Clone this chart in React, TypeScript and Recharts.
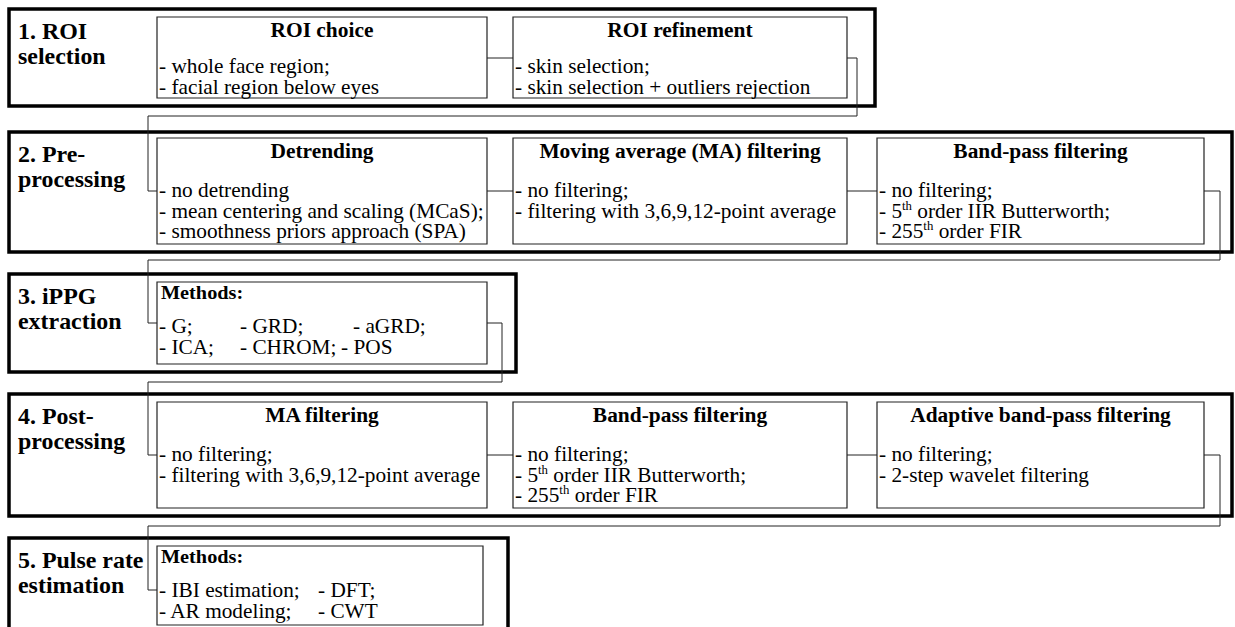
import { ComposedChart, ReferenceArea, ReferenceLine, XAxis, YAxis } from 'recharts';

// text content
const stageNames = [
  ['1. ROI', 'selection'],
  ['2. Pre-', 'processing'],
  ['3. iPPG', 'extraction'],
  ['4. Post-', 'processing'],
  ['5. Pulse rate', 'estimation'],
];

const roiTitles = ['ROI choice', 'ROI refinement'];
const roiItems = [
  ['- whole face region;', '- facial region below eyes'],
  ['- skin selection;', '- skin selection + outliers rejection'],
];

const preTitles = ['Detrending', 'Moving average (MA) filtering', 'Band-pass filtering'];
const preItems = [
  ['- no detrending', '- mean centering and scaling (MCaS);', '- smoothness priors approach (SPA)'],
  ['- no filtering;', '- filtering with 3,6,9,12-point average'],
  ['- no filtering;', '- 5{th} order IIR Butterworth;', '- 255{th} order FIR'],
];

const extractionRows = [
  ['- G;', '- GRD;', '- aGRD;'],
  ['- ICA;', '- CHROM;', '- POS'],
];

const postTitles = ['MA filtering', 'Band-pass filtering', 'Adaptive band-pass filtering'];
const postItems = [
  ['- no filtering;', '- filtering with 3,6,9,12-point average'],
  ['- no filtering;', '- 5{th} order IIR Butterworth;', '- 255{th} order FIR'],
  ['- no filtering;', '- 2-step wavelet filtering'],
];

const estimationRows = [
  ['- IBI estimation;', '- DFT;'],
  ['- AR modeling;', '- CWT'],
];

const methodsTitle = 'Methods:';

// geometry (diagram units = px)
const W = 1235;
const H = 627;
const FONT = '"Liberation Serif", "Times New Roman", serif';

const frames = [
  [9, 875, 9, 106],
  [9, 1232, 132, 252],
  [9, 516, 274, 372],
  [9, 1232, 394, 516],
  [9, 508, 538, 660],
];

const colX = [157, 513, 877];
const colX2 = [487, 847, 1204];
const rowBoxes = [
  [17, 98],
  [138, 244],
  [282, 364],
  [402, 508],
  [546, 625],
];
const bodyOffsets = [56, 59, 0, 59, 0];
const extractionCols = [[0, 81, 194], [0, 81, 182]];
const estimationCols = [[0, 159], [0, 159]];

const connectors = [
  [[487, 58], [513, 58]],
  [[847, 58], [857, 58], [857, 116], [148, 116], [148, 191], [157, 191]],
  [[487, 191], [513, 191]],
  [[847, 191], [877, 191]],
  [[1204, 191], [1220, 191], [1220, 260], [148, 260], [148, 323], [157, 323]],
  [[487, 323], [502, 323], [502, 382], [148, 382], [148, 455], [157, 455]],
  [[487, 455], [513, 455]],
  [[847, 455], [877, 455]],
  [[1204, 455], [1220, 455], [1220, 526], [148, 526], [148, 590], [157, 590]],
];

function SerifText({ x, y, text, size, bold = false, anchor = 'start', sx = 1.06 }: any) {
  const parts = text.split(/(\{[^}]*\})/).filter((p: string) => p.length > 0);
  let raised = false;
  return (
    <text
      transform={`translate(${x} ${y}) scale(${sx} 1)`}
      fontFamily={FONT}
      fontSize={size}
      fontWeight={bold ? 'bold' : 'normal'}
      textAnchor={anchor}
      fill="#000"
      style={{ whiteSpace: 'pre' }}
    >
      {parts.map((p: string, i: number) => {
        if (p.startsWith('{')) {
          raised = true;
          return (
            <tspan key={i} dy={-size * 0.38} fontSize={size * 0.6}>
              {p.slice(1, -1)}
            </tspan>
          );
        }
        const dy = raised ? size * 0.38 : 0;
        raised = false;
        return (
          <tspan key={i} dy={dy}>
            {p}
          </tspan>
        );
      })}
    </text>
  );
}

const stageLabel = (lines: string[]) => (props: any) => {
  const { x, y } = props.viewBox;
  return (
    <g>
      {lines.map((t, i) => (
        <SerifText key={i} x={x + 9} y={y + 30 + i * 25} text={t} size={23} bold sx={1.04} />
      ))}
    </g>
  );
};

const listBox = (title: string, items: string[], bodyOffset: number) => (props: any) => {
  const { x, y, width } = props.viewBox;
  return (
    <g>
      <SerifText x={x + width / 2} y={y + 20} text={title} size={20.5} bold anchor="middle" sx={1.045} />
      {items.map((t, i) => (
        <SerifText key={i} x={x + 2} y={y + bodyOffset + i * 20.5} text={t} size={20} sx={1.065} />
      ))}
    </g>
  );
};

const methodsBox = (rows: string[][], cols: number[][]) => (props: any) => {
  const { x, y } = props.viewBox;
  return (
    <g>
      <SerifText x={x + 4} y={y + 17} text={methodsTitle} size={19.5} bold sx={1.04} />
      {rows.map((row, r) =>
        row.map((t, c) => (
          <SerifText
            key={`${r}-${c}`}
            x={x + 2 + cols[r][c]}
            y={y + 51 + r * 21}
            text={t}
            size={20}
            sx={1.065}
          />
        )),
      )}
    </g>
  );
};

export default function App() {
  const boxes: any[] = [];
  roiTitles.forEach((t, i) =>
    boxes.push({ x1: colX[i], x2: colX2[i], row: 0, label: listBox(t, roiItems[i], bodyOffsets[0]) }),
  );
  preTitles.forEach((t, i) =>
    boxes.push({ x1: colX[i], x2: colX2[i], row: 1, label: listBox(t, preItems[i], bodyOffsets[1]) }),
  );
  boxes.push({ x1: 157, x2: 487, row: 2, label: methodsBox(extractionRows, extractionCols) });
  postTitles.forEach((t, i) =>
    boxes.push({ x1: colX[i], x2: colX2[i], row: 3, label: listBox(t, postItems[i], bodyOffsets[3]) }),
  );
  boxes.push({ x1: 157, x2: 483, row: 4, label: methodsBox(estimationRows, estimationCols) });

  return (
    <div style={{ position: 'absolute', left: 0, top: 0, width: W, height: H, background: '#fff' }}>
      <ComposedChart width={W} height={H} data={[]} margin={{ top: 0, right: 0, bottom: 0, left: 0 }}>
        <XAxis type="number" dataKey="x" domain={[0, W]} hide allowDataOverflow />
        <YAxis type="number" dataKey="y" domain={[0, H]} reversed hide allowDataOverflow />
        {connectors.map((pts, ci) =>
          pts.slice(1).map((p, k) => (
            <ReferenceLine
              key={`c${ci}-${k}`}
              segment={[
                { x: pts[k][0], y: pts[k][1] },
                { x: p[0], y: p[1] },
              ]}
              stroke="#222"
              strokeWidth={1}
              ifOverflow="visible"
            />
          )),
        )}
        {frames.map((f, i) => (
          <ReferenceArea
            key={`f${i}`}
            x1={f[0]}
            x2={f[1]}
            y1={f[2]}
            y2={f[3]}
            fill="none"
            stroke="#000"
            strokeWidth={3.5}
            ifOverflow="visible"
            label={stageLabel(stageNames[i])}
          />
        ))}
        {boxes.map((b, i) => (
          <ReferenceArea
            key={`b${i}`}
            x1={b.x1}
            x2={b.x2}
            y1={rowBoxes[b.row][0]}
            y2={rowBoxes[b.row][1]}
            fill="#fff"
            fillOpacity={1}
            stroke="#222"
            strokeWidth={1.2}
            ifOverflow="visible"
            label={b.label}
          />
        ))}
      </ComposedChart>
    </div>
  );
}
